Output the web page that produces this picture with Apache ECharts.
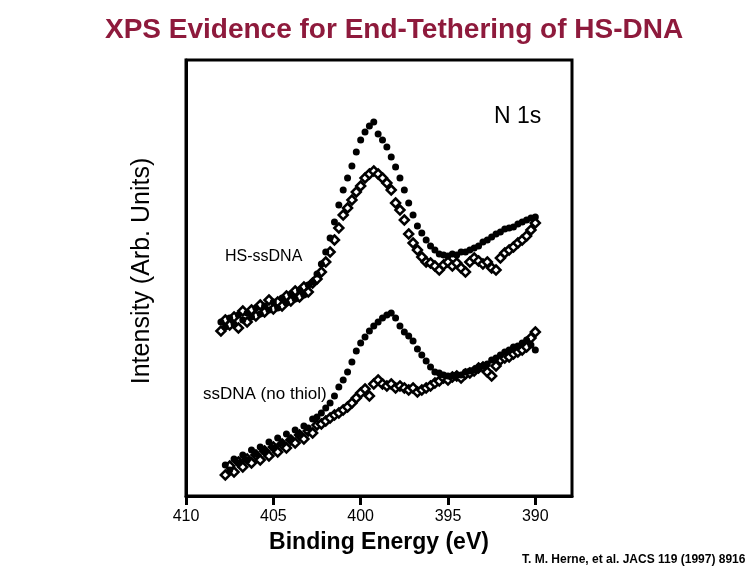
<!DOCTYPE html>
<html>
<head>
<meta charset="utf-8">
<script src="https://cdn.jsdelivr.net/npm/echarts@6/dist/echarts.min.js"></script>
<style>html,body{margin:0;padding:0;background:#fff;}#c{width:756px;height:576px;}</style>
</head>
<body>
<div id="c"></div>
<script>
// Binding energy (eV)
const energyTop = [408.0,407.75,407.5,407.25,407.0,406.75,406.5,406.25,406.0,405.75,405.5,405.25,405.0,404.75,404.5,404.25,404.0,403.75,403.5,403.25,403.0,402.75,402.5,402.25,402.0,401.75,401.5,401.25,401.0,400.75,400.5,400.25,400.0,399.75,399.5,399.25,399.0,398.75,398.5,398.25,398.0,397.75,397.5,397.25,397.0,396.75,396.5,396.25,396.0,395.75,395.5,395.25,395.0,394.75,394.5,394.25,394.0,393.75,393.5,393.25,393.0,392.75,392.5,392.25,392.0,391.75,391.5,391.25,391.0,390.75,390.5,390.25,390.0];
const energyBottom = [407.75,407.5,407.25,407.0,406.75,406.5,406.25,406.0,405.75,405.5,405.25,405.0,404.75,404.5,404.25,404.0,403.75,403.5,403.25,403.0,402.75,402.5,402.25,402.0,401.75,401.5,401.25,401.0,400.75,400.5,400.25,400.0,399.75,399.5,399.25,399.0,398.75,398.5,398.25,398.0,397.75,397.5,397.25,397.0,396.75,396.5,396.25,396.0,395.75,395.5,395.25,395.0,394.75,394.5,394.25,394.0,393.75,393.5,393.25,393.0,392.75,392.5,392.25,392.0,391.75,391.5,391.25,391.0,390.75,390.5,390.25,390.0];
// Intensity (arbitrary units), offset spectra
const hsFilled = [174,169,178,172,181,176,183,179,188,182,190,186,194,188,198,193,202,197,206,201,211,214,222,232,244,258,274,291,306,318,330,344,356,364,370,374,362,356,349,339,329,318,306,293,281,270,263,256,250,246,242,241,240,242,241,244,244,246,248,250,254,256,259,262,264,267,268,269,272,274,276,278,279];
const hsOpen = [165,176,171,179,168,185,174,186,180,191,184,196,187,194,190,200,195,205,199,209,204,213,217,224,234,244,256,268,281,288,296,304,310,318,322,325,322,318,313,306,293,286,276,262,253,246,239,234,233,230,226,231,234,230,233,228,224,234,238,235,232,234,228,226,238,243,246,249,253,256,260,266,273];
const ssFilled = [31,26,37,33,41,36,46,42,49,45,54,48,58,53,62,57,66,62,70,68,77,79,83,88,93,100,109,116,124,134,145,153,159,165,170,174,178,181,183,178,170,164,160,155,147,141,135,129,124,123,121,120,120,121,121,124,125,126,128,130,132,136,138,141,144,146,149,150,153,156,151,146];
const ssOpen = [21,30,24,34,29,37,33,41,36,45,40,49,44,52,48,56,53,61,57,65,63,71,72,75,78,81,83,86,89,93,98,103,107,100,112,116,112,110,112,108,110,108,106,108,104,106,108,110,113,115,118,116,119,120,118,122,123,125,128,129,124,120,130,136,138,139,142,144,146,149,158,164];
const xTicks = [410,405,400,395,390];

const zip = (xs, ys) => xs.map((x, i) => [x, ys[i]]);
const FONT = '"Liberation Sans", Arial, sans-serif';

const chart = echarts.init(document.getElementById('c'));
const filled = { symbol: 'circle', symbolSize: 7, itemStyle: { color: '#000', opacity: 1 } };
const open = { symbol: 'diamond', symbolSize: 9, itemStyle: { color: '#fff', borderColor: '#000', borderWidth: 2.5, opacity: 1 } };
chart.setOption({
  animation: false,
  backgroundColor: '#fff',
  title: {
    text: 'XPS Evidence for End-Tethering of HS-DNA',
    left: 100, top: 11,
    textStyle: { color: '#8e1a3c', fontSize: 28, fontWeight: 'bold', fontFamily: FONT }
  },
  grid: { left: 186, right: 184, top: 60, bottom: 80, show: true, borderColor: '#000', borderWidth: 3, backgroundColor: 'transparent' },
  xAxis: {
    type: 'value', inverse: true, min: 387.9, max: 410,
    axisLine: { show: true, onZero: false, lineStyle: { color: '#000', width: 3 } },
    axisTick: { show: true, customValues: xTicks, length: 9, inside: false, lineStyle: { color: '#000', width: 3 } },
    axisLabel: { customValues: xTicks, color: '#000', fontSize: 16, fontFamily: FONT, margin: 13 },
    splitLine: { show: false },
    name: 'Binding Energy (eV)', nameLocation: 'middle', nameGap: 35,
    nameTextStyle: { color: '#000', fontSize: 23, fontWeight: 'bold', fontFamily: FONT }
  },
  yAxis: {
    type: 'value', min: 0, max: 436,
    axisLine: { show: true, lineStyle: { color: '#000', width: 3 } },
    axisTick: { show: false }, axisLabel: { show: false }, splitLine: { show: false },
    name: 'Intensity (Arb. Units)', nameLocation: 'middle', nameGap: 31,
    nameTextStyle: { color: '#000', fontSize: 25, fontFamily: FONT, padding: [0, 0, 0, 14] }
  },
  graphic: [
    { type: 'text', left: 494, top: 105, style: { text: 'N 1s', fontSize: 23, fontFamily: FONT, fill: '#000' } },
    { type: 'text', left: 225, top: 249, style: { text: 'HS-ssDNA', fontSize: 16, fontFamily: FONT, fill: '#000' } },
    { type: 'text', left: 203, top: 386, style: { text: 'ssDNA (no thiol)', fontSize: 17, fontFamily: FONT, fill: '#000' } },
    { type: 'text', left: 522, top: 554, style: { text: 'T. M. Herne, et al. JACS 119 (1997) 8916', fontSize: 12, fontWeight: 'bold', fontFamily: FONT, fill: '#000' } }
  ],
  series: [
    Object.assign({ type: 'scatter', name: 'HS-ssDNA open', data: zip(energyTop, hsOpen) }, open),
    Object.assign({ type: 'scatter', name: 'HS-ssDNA filled', data: zip(energyTop, hsFilled) }, filled),
    Object.assign({ type: 'scatter', name: 'ssDNA open', data: zip(energyBottom, ssOpen) }, open),
    Object.assign({ type: 'scatter', name: 'ssDNA filled', data: zip(energyBottom, ssFilled) }, filled)
  ]
});
</script>
</body>
</html>
